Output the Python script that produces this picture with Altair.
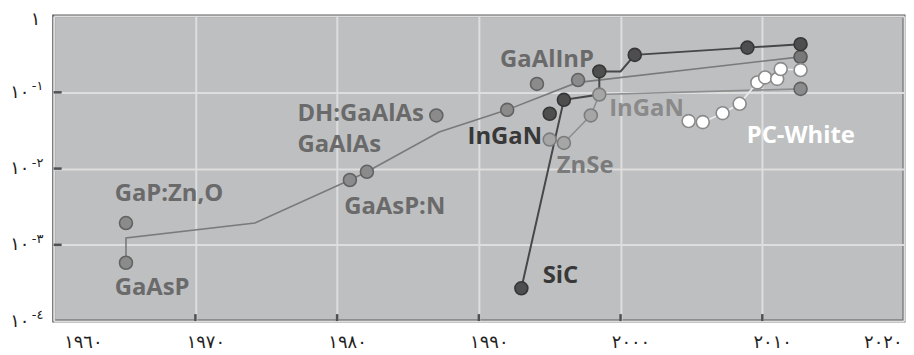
import altair as alt
import pandas as pd

# ---- axis ticks / labels ----
x_ticks = [1960, 1970, 1980, 1990, 2000, 2010, 2020]
x_tick_labels = ["١٩٦٠", "١٩٧٠", "١٩٨٠", "١٩٩٠", "٢٠٠٠", "٢٠١٠", "٢٠٢٠"]
y_ticks = [1, 0.1, 0.01, 0.001, 0.0001]
y_base_labels = ["١", "١٠", "١٠", "١٠", "١٠"]
y_exp_labels = ["", "-١", "-٢", "-٣", "-٤"]
x_inner_ticks = [1970, 1980, 1990, 2000, 2010]
y_inner_ticks = [0.1, 0.01, 0.001]

# ---- points ----
pt_year = [1965.1, 1965.1, 1980.9, 1982.1, 1987.0, 1992.0, 1994.1, 1997.0, 2012.7, 2012.7,
           1993.0, 1995.0, 1996.0, 1998.5, 2001.0, 2008.95, 2012.7,
           1995.0, 1996.0, 1997.9, 1998.5,
           2004.8, 2005.8, 2007.2, 2008.4, 2009.65, 2010.2, 2011.05, 2011.3, 2012.7]
pt_value = [1.93e-3, 5.82e-4, 7.08e-3, 9.08e-3, 0.0498, 0.0590, 0.129, 0.145, 0.292, 0.111,
            2.69e-4, 0.0524, 0.0798, 0.188, 0.310, 0.386, 0.428,
            0.0240, 0.0217, 0.0498, 0.0935,
            0.0420, 0.0407, 0.0533, 0.0708, 0.135, 0.157, 0.150, 0.202, 0.196]
pt_group = ["mid"] * 8 + ["middark", "mid"] + ["dark"] * 7 + ["light"] * 4 + ["white"] * 9

# ---- lines ----
line_year = [1965.1, 1965.1, 1974.2, 1980.9, 1982.1, 1987.2, 1992.0, 1996.9, 2012.7,
             1993.0, 1996.0, 1998.5, 1998.5, 2000.0, 2001.0, 2008.95, 2012.7,
             1995.0, 1996.0, 1997.9, 1998.5, 2012.7,
             2004.8, 2005.8, 2007.2, 2008.4, 2009.65, 2010.2, 2011.05, 2011.3, 2012.7]
line_value = [5.82e-4, 1.23e-3, 1.93e-3, 7.08e-3, 9.08e-3, 0.0301, 0.0590, 0.134, 0.292,
              2.69e-4, 0.0798, 0.0935, 0.188, 0.188, 0.310, 0.386, 0.428,
              0.0240, 0.0217, 0.0498, 0.0935, 0.111,
              0.0420, 0.0407, 0.0533, 0.0708, 0.135, 0.157, 0.150, 0.202, 0.196]
line_series = ["mid"] * 9 + ["dark"] * 8 + ["light"] * 5 + ["white"] * 9

# ---- text labels ----
lab_text = ["GaP:Zn,O", "GaAsP", "GaAsP:N", "GaAlAs", "DH:GaAlAs", "GaAlInP",
            "InGaN", "InGaN", "ZnSe", "SiC", "PC-White"]
lab_year = [1964.3, 1964.3, 1980.5, 1977.2, 1977.2, 1991.5,
            1989.2, 1999.2, 1995.5, 1994.5, 2008.9]
lab_value = [4.66e-3, 2.69e-4, 3.15e-3, 0.0202, 0.0513, 0.267,
             0.0257, 0.0596, 0.0108, 3.85e-4, 0.0265]
lab_group = ["mid", "mid", "mid", "mid", "mid", "mid",
             "dark", "light", "zn", "dark", "white"]

points = pd.DataFrame({"year": pt_year, "value": pt_value, "group": pt_group})
lines = pd.DataFrame({"year": line_year, "value": line_value, "series": line_series,
                      "idx": list(range(len(line_year)))})
labels = pd.DataFrame({"text": lab_text, "year": lab_year, "value": lab_value, "group": lab_group})
yexp = pd.DataFrame({"value": y_ticks, "exp": y_exp_labels})
xt = pd.DataFrame({"year": x_inner_ticks})
yt = pd.DataFrame({"value": y_inner_ticks})

W, H = 856, 307
x_enc = alt.X("year:Q", scale=alt.Scale(domain=[1960, 2020], nice=False, zero=False),
              axis=alt.Axis(values=x_ticks, title=None, grid=True, gridColor="#dedede", gridWidth=2,
                            ticks=False, domain=False, labelFont="DejaVu Sans", labelFontSize=18,
                            labelColor="#222222", labelPadding=13, labelFlush=True,
                            labelOffset={"condition": {"test": "datum.value == 2020", "value": -2}, "value": 10},
                            labelExpr="%s[round((datum.value-1960)/10)]" % str(x_tick_labels)))
y_scale = alt.Scale(type="log", domain=[0.0001, 1], nice=False)
y_enc = alt.Y("value:Q", scale=y_scale,
              axis=alt.Axis(values=y_ticks, title=None, grid=True, gridColor="#dedede", gridWidth=2,
                            ticks=False, domain=False, labelFont="DejaVu Sans", labelFontSize=18,
                            labelColor="#222222", labelAlign="right", labelBaseline="middle",
                            labelPadding={"condition": {"test": "datum.value >= 1", "value": 14}, "value": 25},
                            labelOffset={"condition": {"test": "datum.value >= 1", "value": 3}, "value": 0},
                            labelExpr="%s[round(-log(datum.value)/LN10)]" % str(y_base_labels)))

base = alt.Chart(points)

def line_layer(series, color, width):
    return alt.Chart(lines).transform_filter(alt.datum.series == series).mark_line(
        color=color, strokeWidth=width).encode(x=x_enc, y=y_enc, order="idx:Q")

lyr_lines = [line_layer("mid", "#7a7a7a", 1.6), line_layer("light", "#8e8e8e", 1.6),
             line_layer("dark", "#474747", 2), line_layer("white", "#ececec", 1.6)]

grp_dom = ["mid", "middark", "dark", "light", "white"]
fill_rng = ["#8b8b8b", "#787878", "#4e4e4e", "#a6a6a6", "#ffffff"]
stroke_rng = ["#626262", "#555555", "#363636", "#7c7c7c", "#8a8a8a"]

pts = base.mark_point(shape="circle", filled=True, size=170, strokeWidth=1.6, opacity=1).encode(
    x=x_enc, y=y_enc,
    fill=alt.Fill("group:N", scale=alt.Scale(domain=grp_dom, range=fill_rng), legend=None),
    stroke=alt.Stroke("group:N", scale=alt.Scale(domain=grp_dom, range=stroke_rng), legend=None))

lab_dom = ["mid", "dark", "light", "zn", "white"]
lab_rng = ["#6a6a6a", "#383838", "#8a8a8a", "#7a7a7a", "#ffffff"]
txt = alt.Chart(labels).mark_text(align="left", baseline="middle", font="Open Sans",
                                  fontWeight="bold", fontSize=24).encode(
    x=x_enc, y=y_enc, text="text:N",
    color=alt.Color("group:N", scale=alt.Scale(domain=lab_dom, range=lab_rng), legend=None))

exp_txt = alt.Chart(yexp).mark_text(align="left", baseline="middle", font="DejaVu Sans",
                                    fontSize=13, dy=-6, color="#222222").encode(
    x=alt.value(-22), y=alt.Y("value:Q", scale=y_scale), text="exp:N")

xticks = alt.Chart(xt).mark_rule(color="#505050", strokeWidth=2.5).encode(
    x=alt.X("year:Q", scale=alt.Scale(domain=[1960, 2020], nice=False, zero=False)),
    y=alt.value(H - 7), y2=alt.value(H))
yticks = alt.Chart(yt).mark_rule(color="#505050", strokeWidth=2.5).encode(
    y=alt.Y("value:Q", scale=y_scale), x=alt.value(0), x2=alt.value(8))

chart = alt.layer(*lyr_lines, pts, txt, exp_txt, xticks, yticks).properties(
    width=W, height=H, autosize="none",
    padding={"left": 46, "top": 7, "right": 2, "bottom": 32}
).configure_view(fill="#bebfc1", stroke="#5e5e5e", strokeWidth=3)

chart.save("out.html", embed_options={"renderer": "svg", "actions": False})
